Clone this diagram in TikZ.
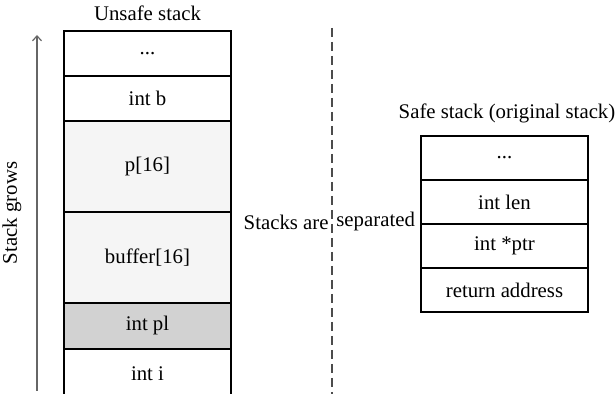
\documentclass[tikz,border=0pt]{standalone}
\usepackage{fontspec}
\setmainfont{Liberation Serif}
\usetikzlibrary{arrows.meta, positioning}

\begin{document}
\begin{tikzpicture}[
    x=0.5pt, y=-0.5pt,
    font=\fontsize{10.4}{12}\selectfont,
    cell/.style={rectangle, draw, line width=0.6pt, minimum width=83.5pt, minimum height=22.5pt, inner sep=0pt, outer sep=0pt, align=center},
    bigcell/.style={cell, minimum height=45.5pt, fill=gray!8},
    ptrcell/.style={cell, minimum height=23pt, fill=gray!35},
    safecell/.style={cell, minimum height=22pt},
    arrow/.style={line width=0.6pt, draw=black!60, -{Straight Barb[length=2.5pt, width=4.5pt]}},
    sep/.style={line width=0.6pt, draw=black!70, dash pattern=on 4.5pt off 2.5pt},
]
    \useasboundingbox (0,0) rectangle (616,394);
    \clip (0,0) rectangle (616,394);

    % unsafe stack
    \node[cell, anchor=north west] (udots) at (64,31) {...};
    \node[cell, below=0pt of udots] (intb) {int b};
    \node[bigcell, below=0pt of intb] (parr) {p[16]};
    \node[bigcell, below=0pt of parr] (buffer) {buffer[16]};
    \node[ptrcell, below=0pt of buffer] (intpl) {int pl};
    \node[cell, minimum height=25pt, below=0pt of intpl] (inti) {int i};
    \node[above=1.5pt of udots] (utitle) {Unsafe stack};

    % growth arrow
    \coordinate (growbot) at (37,391);
    \coordinate (growtop) at (37,35);
    \draw[arrow] (growbot) -- (growtop);
    \node[rotate=90] (grows) at (12,213) {Stack grows};

    % separator
    \coordinate (septop) at (332,28);
    \coordinate (sepbot) at (332,394);
    \draw[sep] (septop) -- (sepbot);
    \node[anchor=east, inner sep=0pt] (sepl) at (329,222) {Stacks are};
    \node[anchor=west, inner sep=0pt] (sepr) at (336,222) {separated};

    % safe stack
    \node[safecell, anchor=north west] (sdots) at (421,136) {...};
    \node[safecell, below=0pt of sdots] (intlen) {int len};
    \node[safecell, below=0pt of intlen] (intptr) {int *ptr};
    \node[safecell, below=0pt of intptr] (retaddr) {return address};
    \node[above=3pt of sdots, xshift=1.25pt] (stitle) {Safe stack (original stack)};
\end{tikzpicture}
\end{document}
